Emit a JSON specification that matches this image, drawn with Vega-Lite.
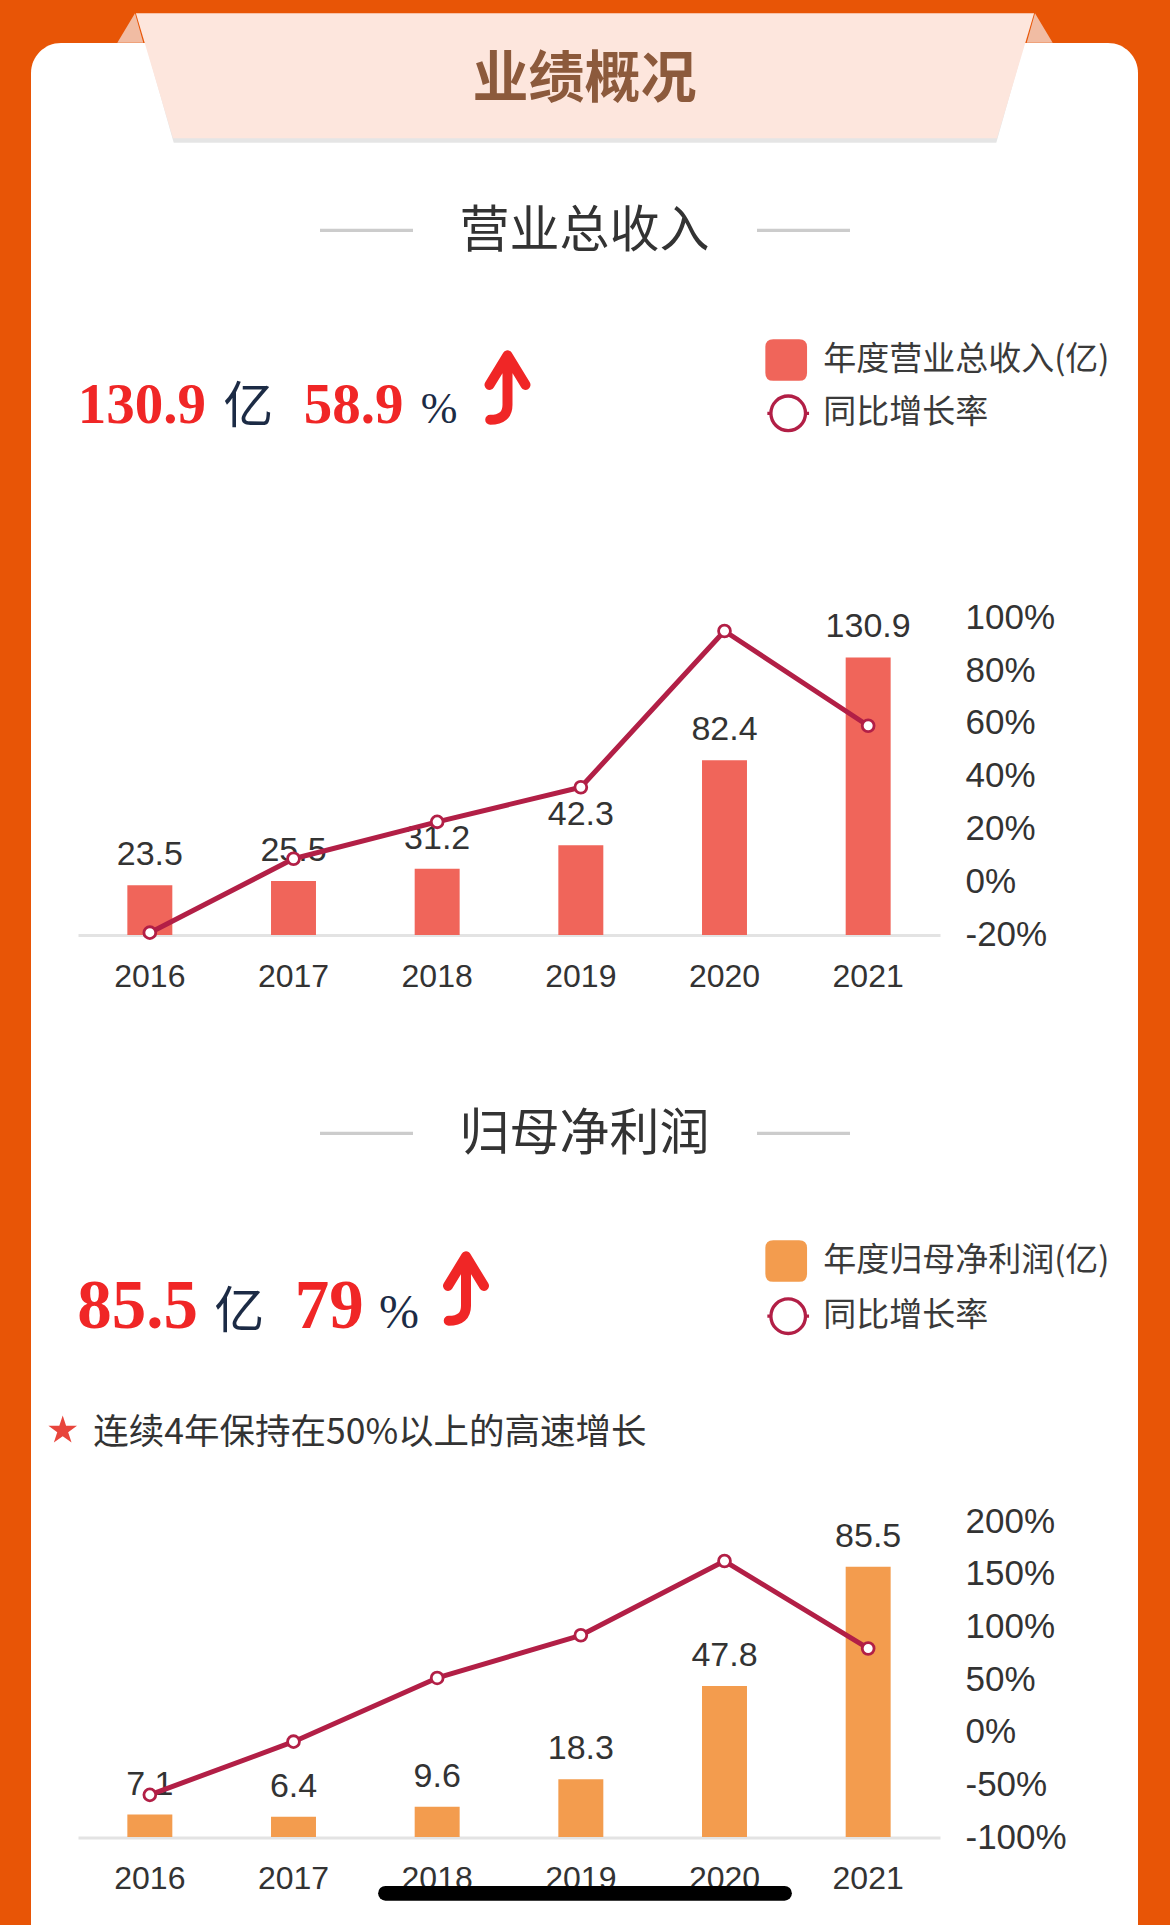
{
  "$schema": "https://vega.github.io/schema/vega-lite/v6.json",
  "width": 1107,
  "height": 1912,
  "autosize": {"type": "none"},
  "padding": {"left": 31, "top": 43, "right": 32, "bottom": -30},
  "background": "#E85506",
  "config": {
    "view": {"fill": "#FFFFFF", "stroke": null, "cornerRadius": 30},
    "font": "Liberation Sans"
  },
  "datasets": {
    "revenue": [
      {"year": "2016", "revenue": 23.5, "growth": -19.5},
      {"year": "2017", "revenue": 25.5, "growth": 8.5},
      {"year": "2018", "revenue": 31.2, "growth": 22.5},
      {"year": "2019", "revenue": 42.3, "growth": 35.6},
      {"year": "2020", "revenue": 82.4, "growth": 94.8},
      {"year": "2021", "revenue": 130.9, "growth": 58.9}
    ],
    "profit": [
      {"year": "2016", "profit": 7.1, "growth": -60.0},
      {"year": "2017", "profit": 6.4, "growth": -9.5},
      {"year": "2018", "profit": 9.6, "growth": 51.0},
      {"year": "2019", "profit": 18.3, "growth": 91.5},
      {"year": "2020", "profit": 47.8, "growth": 162.0},
      {"year": "2021", "profit": 85.5, "growth": 79.0}
    ]
  },
  "resolve": {
    "scale": {"x": "independent", "y": "independent", "fill": "independent", "stroke": "independent"},
    "axis": {"x": "independent", "y": "independent"},
    "legend": {"fill": "independent", "stroke": "independent"}
  },
  "layer": [
    {
      "data": {"values": [{"title": "业绩概况", "section1": "营业总收入", "section2": "归母净利润", "note": "连续4年保持在50%以上的高速增长"}]},
      "layer": [
        {
          "mark": {"type": "point", "shape": "M-1,-0.1389L-1.0393,-0.0736L-0.9816,-0.0736ZM1,-0.1389L1.0393,-0.0736L0.9816,-0.0736Z", "size": 810000, "filled": true, "fill": "#F1BCA3", "strokeWidth": 0, "opacity": 1},
          "encoding": {
            "x": {"datum": 50.045, "type": "quantitative", "scale": {"domain": [0, 100], "nice": false, "zero": false}, "axis": null},
            "y": {"datum": 1.7155, "type": "quantitative", "scale": {"domain": [0, 100], "nice": false, "zero": false, "reverse": true}, "axis": null}
          }
        },
        {
          "mark": {"type": "point", "shape": "M-0.99,-0.12L0.99,-0.12L0.914,0.1489L-0.914,0.1489Z", "size": 810000, "filled": true, "fill": "#000000", "strokeWidth": 0, "opacity": 0.1},
          "encoding": {
            "x": {"datum": 50.045, "type": "quantitative", "scale": {"domain": [0, 100], "nice": false, "zero": false}, "axis": null},
            "y": {"datum": 1.7155, "type": "quantitative", "scale": {"domain": [0, 100], "nice": false, "zero": false, "reverse": true}, "axis": null}
          }
        },
        {
          "mark": {"type": "point", "shape": "M-0.998,-0.1389L0.998,-0.1389L0.9156,0.1389L-0.9156,0.1389Z", "size": 810000, "filled": true, "fill": "#FDE6DD", "strokeWidth": 0, "opacity": 1},
          "encoding": {
            "x": {"datum": 50.045, "type": "quantitative", "scale": {"domain": [0, 100], "nice": false, "zero": false}, "axis": null},
            "y": {"datum": 1.7155, "type": "quantitative", "scale": {"domain": [0, 100], "nice": false, "zero": false, "reverse": true}, "axis": null}
          }
        },
        {
          "mark": {"type": "text", "font": "Noto Sans CJK SC", "fontWeight": "bold", "fontSize": 56, "color": "#8C5A3C", "baseline": "middle", "align": "center"},
          "encoding": {
            "y": {"datum": 1.935, "type": "quantitative", "scale": {"domain": [0, 100], "nice": false, "zero": false, "reverse": true}, "axis": null},
            "text": {"field": "title"}
          }
        },
        {
          "mark": {"type": "text", "font": "Noto Sans CJK SC", "fontSize": 50, "color": "#333333", "baseline": "middle", "align": "center"},
          "encoding": {
            "y": {"datum": 9.885, "type": "quantitative", "scale": {"domain": [0, 100], "nice": false, "zero": false, "reverse": true}, "axis": null},
            "text": {"field": "section1"}
          }
        },
        {
          "mark": {"type": "text", "font": "Noto Sans CJK SC", "fontSize": 50, "color": "#333333", "baseline": "middle", "align": "center"},
          "encoding": {
            "y": {"datum": 57.113, "type": "quantitative", "scale": {"domain": [0, 100], "nice": false, "zero": false, "reverse": true}, "axis": null},
            "text": {"field": "section2"}
          }
        },
        {
          "mark": {"type": "rule", "color": "#CCCCCC", "strokeWidth": 3.3},
          "encoding": {
            "x": {"datum": 26.107, "type": "quantitative", "scale": {"domain": [0, 100], "nice": false, "zero": false}, "axis": null},
            "x2": {"datum": 34.508},
            "y": {"datum": 9.796, "type": "quantitative", "scale": {"domain": [0, 100], "nice": false, "zero": false, "reverse": true}, "axis": null}
          }
        },
        {
          "mark": {"type": "rule", "color": "#CCCCCC", "strokeWidth": 3.3},
          "encoding": {
            "x": {"datum": 65.583, "type": "quantitative", "scale": {"domain": [0, 100], "nice": false, "zero": false}, "axis": null},
            "x2": {"datum": 73.984},
            "y": {"datum": 9.796, "type": "quantitative", "scale": {"domain": [0, 100], "nice": false, "zero": false, "reverse": true}, "axis": null}
          }
        },
        {
          "mark": {"type": "rule", "color": "#CCCCCC", "strokeWidth": 3.3},
          "encoding": {
            "x": {"datum": 26.107, "type": "quantitative", "scale": {"domain": [0, 100], "nice": false, "zero": false}, "axis": null},
            "x2": {"datum": 34.508},
            "y": {"datum": 57.024, "type": "quantitative", "scale": {"domain": [0, 100], "nice": false, "zero": false, "reverse": true}, "axis": null}
          }
        },
        {
          "mark": {"type": "rule", "color": "#CCCCCC", "strokeWidth": 3.3},
          "encoding": {
            "x": {"datum": 65.583, "type": "quantitative", "scale": {"domain": [0, 100], "nice": false, "zero": false}, "axis": null},
            "x2": {"datum": 73.984},
            "y": {"datum": 57.024, "type": "quantitative", "scale": {"domain": [0, 100], "nice": false, "zero": false, "reverse": true}, "axis": null}
          }
        },
        {
          "data": {"name": "revenue"},
          "transform": [{"filter": "datum.year == '2021'"}],
          "mark": {"type": "text", "align": "left", "baseline": "alphabetic", "font": "Liberation Serif", "fontWeight": "bold", "fontSize": 57, "color": "#F02626"},
          "encoding": {
            "x": {"datum": 4.219, "type": "quantitative", "scale": {"domain": [0, 100], "nice": false, "zero": false}, "axis": null},
            "y": {"datum": 19.89, "type": "quantitative", "scale": {"domain": [0, 100], "nice": false, "zero": false, "reverse": true}, "axis": null},
            "text": {"field": "revenue", "type": "quantitative", "format": ".1f"}
          }
        },
        {
          "data": {"name": "revenue"},
          "transform": [{"filter": "datum.year == '2021'"}],
          "mark": {"type": "text", "align": "left", "baseline": "alphabetic", "font": "Noto Sans CJK SC", "fontSize": 50, "color": "#1C2B45", "text": "亿"},
          "encoding": {
            "x": {"datum": 17.362, "type": "quantitative", "scale": {"domain": [0, 100], "nice": false, "zero": false}, "axis": null},
            "y": {"datum": 19.89, "type": "quantitative", "scale": {"domain": [0, 100], "nice": false, "zero": false, "reverse": true}, "axis": null}
          }
        },
        {
          "data": {"name": "revenue"},
          "transform": [{"filter": "datum.year == '2021'"}],
          "mark": {"type": "text", "align": "left", "baseline": "alphabetic", "font": "Liberation Serif", "fontWeight": "bold", "fontSize": 57, "color": "#F02626"},
          "encoding": {
            "x": {"datum": 24.634, "type": "quantitative", "scale": {"domain": [0, 100], "nice": false, "zero": false}, "axis": null},
            "y": {"datum": 19.89, "type": "quantitative", "scale": {"domain": [0, 100], "nice": false, "zero": false, "reverse": true}, "axis": null},
            "text": {"field": "growth", "type": "quantitative", "format": ".1f"}
          }
        },
        {
          "data": {"name": "revenue"},
          "transform": [{"filter": "datum.year == '2021'"}],
          "mark": {"type": "text", "align": "left", "baseline": "alphabetic", "font": "Liberation Serif", "fontSize": 44, "color": "#1C2B45", "text": "%"},
          "encoding": {
            "x": {"datum": 35.212, "type": "quantitative", "scale": {"domain": [0, 100], "nice": false, "zero": false}, "axis": null},
            "y": {"datum": 19.89, "type": "quantitative", "scale": {"domain": [0, 100], "nice": false, "zero": false, "reverse": true}, "axis": null}
          }
        },
        {
          "data": {"name": "revenue"},
          "transform": [{"filter": "datum.year == '2021'"}],
          "mark": {"type": "point", "shape": "M-0.5,-0.1L0,-0.92L0.5,-0.1M0,-0.9L0,0.45Q0,0.87,-0.48,0.87", "size": 5184, "filled": false, "color": "#F02626", "strokeWidth": 10, "strokeCap": "round", "strokeJoin": "round", "opacity": 1},
          "encoding": {
            "x": {"datum": 43.044, "type": "quantitative", "scale": {"domain": [0, 100], "nice": false, "zero": false}, "axis": null},
            "y": {"datum": 18.07, "type": "quantitative", "scale": {"domain": [0, 100], "nice": false, "zero": false, "reverse": true}, "axis": null}
          }
        },
        {
          "data": {"name": "profit"},
          "transform": [{"filter": "datum.year == '2021'"}],
          "mark": {"type": "text", "align": "left", "baseline": "alphabetic", "font": "Liberation Serif", "fontWeight": "bold", "fontSize": 69, "color": "#F02626"},
          "encoding": {
            "x": {"datum": 4.183, "type": "quantitative", "scale": {"domain": [0, 100], "nice": false, "zero": false}, "axis": null},
            "y": {"datum": 67.223, "type": "quantitative", "scale": {"domain": [0, 100], "nice": false, "zero": false, "reverse": true}, "axis": null},
            "text": {"field": "profit", "type": "quantitative", "format": ".1f"}
          }
        },
        {
          "data": {"name": "profit"},
          "transform": [{"filter": "datum.year == '2021'"}],
          "mark": {"type": "text", "align": "left", "baseline": "alphabetic", "font": "Noto Sans CJK SC", "fontSize": 50, "color": "#1C2B45", "text": "亿"},
          "encoding": {
            "x": {"datum": 16.549, "type": "quantitative", "scale": {"domain": [0, 100], "nice": false, "zero": false}, "axis": null},
            "y": {"datum": 67.223, "type": "quantitative", "scale": {"domain": [0, 100], "nice": false, "zero": false, "reverse": true}, "axis": null}
          }
        },
        {
          "data": {"name": "profit"},
          "transform": [{"filter": "datum.year == '2021'"}],
          "mark": {"type": "text", "align": "left", "baseline": "alphabetic", "font": "Liberation Serif", "fontWeight": "bold", "fontSize": 69, "color": "#F02626"},
          "encoding": {
            "x": {"datum": 23.821, "type": "quantitative", "scale": {"domain": [0, 100], "nice": false, "zero": false}, "axis": null},
            "y": {"datum": 67.223, "type": "quantitative", "scale": {"domain": [0, 100], "nice": false, "zero": false, "reverse": true}, "axis": null},
            "text": {"field": "growth", "type": "quantitative", "format": "d"}
          }
        },
        {
          "data": {"name": "profit"},
          "transform": [{"filter": "datum.year == '2021'"}],
          "mark": {"type": "text", "align": "left", "baseline": "alphabetic", "font": "Liberation Serif", "fontSize": 48, "color": "#1C2B45", "text": "%"},
          "encoding": {
            "x": {"datum": 31.427, "type": "quantitative", "scale": {"domain": [0, 100], "nice": false, "zero": false}, "axis": null},
            "y": {"datum": 67.223, "type": "quantitative", "scale": {"domain": [0, 100], "nice": false, "zero": false, "reverse": true}, "axis": null}
          }
        },
        {
          "data": {"name": "profit"},
          "transform": [{"filter": "datum.year == '2021'"}],
          "mark": {"type": "point", "shape": "M-0.5,-0.1L0,-0.92L0.5,-0.1M0,-0.9L0,0.45Q0,0.87,-0.48,0.87", "size": 5184, "filled": false, "color": "#F02626", "strokeWidth": 10, "strokeCap": "round", "strokeJoin": "round", "opacity": 1},
          "encoding": {
            "x": {"datum": 39.296, "type": "quantitative", "scale": {"domain": [0, 100], "nice": false, "zero": false}, "axis": null},
            "y": {"datum": 65.193, "type": "quantitative", "scale": {"domain": [0, 100], "nice": false, "zero": false, "reverse": true}, "axis": null}
          }
        },
        {
          "mark": {"type": "point", "shape": "M0,-0.9045L0.2245,-0.2135L0.951,-0.2135L0.363,0.2135L0.588,0.9045L0,0.4775L-0.588,0.9045L-0.363,0.2135L-0.951,-0.2135L-0.2245,-0.2135Z", "size": 905, "filled": true, "fill": "#E8453C", "strokeWidth": 0, "opacity": 1},
          "encoding": {
            "x": {"datum": 2.864, "type": "quantitative", "scale": {"domain": [0, 100], "nice": false, "zero": false}, "axis": null},
            "y": {"datum": 72.49, "type": "quantitative", "scale": {"domain": [0, 100], "nice": false, "zero": false, "reverse": true}, "axis": null}
          }
        },
        {
          "mark": {"type": "text", "align": "left", "baseline": "middle", "font": "Noto Sans CJK SC", "fontSize": 35.5, "color": "#333333"},
          "encoding": {
            "x": {"datum": 5.628, "type": "quantitative", "scale": {"domain": [0, 100], "nice": false, "zero": false}, "axis": null},
            "y": {"datum": 72.72, "type": "quantitative", "scale": {"domain": [0, 100], "nice": false, "zero": false, "reverse": true}, "axis": null},
            "text": {"field": "note"}
          }
        }
      ]
    },
    {
      "data": {"name": "revenue"},
      "resolve": {"scale": {"y": "independent"}, "axis": {"y": "independent"}},
      "encoding": {
        "x": {
          "field": "year", "type": "ordinal",
          "scale": {"range": [47, 909], "paddingInner": 0.687, "paddingOuter": 0.3435},
          "axis": {"orient": "bottom", "offset": -1020, "title": null, "domainColor": "#E3E3E3", "domainWidth": 3, "ticks": false, "tickSize": 0, "labelPadding": 26, "labelFontSize": 32, "labelColor": "#333333", "labelFont": "Liberation Sans", "labelAngle": 0, "grid": false}
        }
      },
      "layer": [
        {
          "mark": {"type": "bar"},
          "encoding": {
            "y": {"field": "revenue", "type": "quantitative", "scale": {"domain": [0, 150], "range": [892, 574], "nice": false}, "axis": null},
            "fill": {
              "datum": "年度营业总收入(亿)", "type": "nominal",
              "scale": {"domain": ["年度营业总收入(亿)"], "range": ["#F0655A"]},
              "legend": {"orient": "none", "legendX": 734.2, "legendY": 296, "title": null, "padding": 0,
                "symbolType": "M-0.62,-1L0.62,-1Q1,-1,1,-0.62L1,0.62Q1,1,0.62,1L-0.62,1Q-1,1,-1,0.62L-1,-0.62Q-1,-1,-0.62,-1Z",
                "symbolSize": 1739, "symbolStrokeWidth": 0, "symbolFillColor": "#F0655A", "labelFont": "Noto Sans CJK SC", "labelFontSize": 33, "labelColor": "#3A3A3A", "labelOffset": 16, "labelLimit": 600}
            }
          }
        },
        {
          "mark": {"type": "text", "baseline": "alphabetic", "align": "center", "dy": -20, "fontSize": 34, "color": "#333333", "font": "Liberation Sans"},
          "encoding": {
            "y": {"field": "revenue", "type": "quantitative", "scale": {"domain": [0, 150], "range": [892, 574], "nice": false}, "axis": null},
            "text": {"field": "revenue", "type": "quantitative", "format": ".1f"}
          }
        },
        {
          "mark": {"type": "line", "strokeWidth": 5, "strokeJoin": "round"},
          "encoding": {
            "y": {"field": "growth", "type": "quantitative", "scale": {"domain": [-20, 100], "range": [891, 574.3], "nice": false, "zero": false},
              "axis": {"orient": "right", "offset": -198, "title": null, "domain": false, "ticks": false, "tickSize": 0, "grid": false, "labelPadding": 25, "labelFontSize": 35, "labelColor": "#333333", "labelFont": "Liberation Sans", "values": [-20, 0, 20, 40, 60, 80, 100], "labelExpr": "datum.value + '%'", "labelBaseline": "middle", "labelAlign": "left"}},
            "stroke": {
              "datum": "同比增长率", "type": "nominal",
              "scale": {"domain": ["同比增长率"], "range": ["#B21F46"]},
              "legend": {"orient": "none", "legendX": 734.2, "legendY": 347.3, "title": null, "padding": 0,
                "symbolType": "M-1,0L-0.83,0M0.83,0L1,0M-0.83,0A0.83,0.83,0,1,1,0.83,0A0.83,0.83,0,1,1,-0.83,0Z",
                "symbolSize": 1739, "symbolStrokeWidth": 3.3, "symbolFillColor": "#FFFFFF", "labelFont": "Noto Sans CJK SC", "labelFontSize": 33, "labelColor": "#3A3A3A", "labelOffset": 12, "labelLimit": 600}
            }
          }
        },
        {
          "mark": {"type": "point", "filled": true, "fill": "#FFFFFF", "size": 140, "strokeWidth": 2.8, "opacity": 1},
          "encoding": {
            "y": {"field": "growth", "type": "quantitative", "scale": {"domain": [-20, 100], "range": [891, 574.3], "nice": false, "zero": false}, "axis": null},
            "stroke": {"datum": "同比增长率", "type": "nominal"}
          }
        }
      ]
    },
    {
      "data": {"name": "profit"},
      "resolve": {"scale": {"y": "independent"}, "axis": {"y": "independent"}},
      "encoding": {
        "x": {
          "field": "year", "type": "ordinal",
          "scale": {"range": [47, 909], "paddingInner": 0.687, "paddingOuter": 0.3435},
          "axis": {"orient": "bottom", "offset": -117.5, "title": null, "domainColor": "#E3E3E3", "domainWidth": 3, "ticks": false, "tickSize": 0, "labelPadding": 26, "labelFontSize": 32, "labelColor": "#333333", "labelFont": "Liberation Sans", "labelAngle": 0, "grid": false}
        }
      },
      "layer": [
        {
          "mark": {"type": "bar"},
          "encoding": {
            "y": {"field": "profit", "type": "quantitative", "scale": {"domain": [0, 100], "range": [1794, 1478], "nice": false}, "axis": null},
            "fill": {
              "datum": "年度归母净利润(亿)", "type": "nominal",
              "scale": {"domain": ["年度归母净利润(亿)"], "range": ["#F39C4E"]},
              "legend": {"orient": "none", "legendX": 734.2, "legendY": 1197, "title": null, "padding": 0,
                "symbolType": "M-0.62,-1L0.62,-1Q1,-1,1,-0.62L1,0.62Q1,1,0.62,1L-0.62,1Q-1,1,-1,0.62L-1,-0.62Q-1,-1,-0.62,-1Z",
                "symbolSize": 1739, "symbolStrokeWidth": 0, "symbolFillColor": "#F39C4E", "labelFont": "Noto Sans CJK SC", "labelFontSize": 33, "labelColor": "#3A3A3A", "labelOffset": 16, "labelLimit": 600}
            }
          }
        },
        {
          "mark": {"type": "text", "baseline": "alphabetic", "align": "center", "dy": -20, "fontSize": 34, "color": "#333333", "font": "Liberation Sans"},
          "encoding": {
            "y": {"field": "profit", "type": "quantitative", "scale": {"domain": [0, 100], "range": [1794, 1478], "nice": false}, "axis": null},
            "text": {"field": "profit", "type": "quantitative", "format": ".1f"}
          }
        },
        {
          "mark": {"type": "line", "strokeWidth": 5, "strokeJoin": "round"},
          "encoding": {
            "y": {"field": "growth", "type": "quantitative", "scale": {"domain": [-100, 200], "range": [1794, 1478], "nice": false, "zero": false},
              "axis": {"orient": "right", "offset": -198, "title": null, "domain": false, "ticks": false, "tickSize": 0, "grid": false, "labelPadding": 25, "labelFontSize": 35, "labelColor": "#333333", "labelFont": "Liberation Sans", "values": [-100, -50, 0, 50, 100, 150, 200], "labelExpr": "datum.value + '%'", "labelBaseline": "middle", "labelAlign": "left"}},
            "stroke": {
              "datum": "同比增长率", "type": "nominal",
              "scale": {"domain": ["同比增长率"], "range": ["#B21F46"]},
              "legend": {"orient": "none", "legendX": 734.2, "legendY": 1250.2, "title": null, "padding": 0,
                "symbolType": "M-1,0L-0.83,0M0.83,0L1,0M-0.83,0A0.83,0.83,0,1,1,0.83,0A0.83,0.83,0,1,1,-0.83,0Z",
                "symbolSize": 1739, "symbolStrokeWidth": 3.3, "symbolFillColor": "#FFFFFF", "labelFont": "Noto Sans CJK SC", "labelFontSize": 33, "labelColor": "#3A3A3A", "labelOffset": 12, "labelLimit": 600}
            }
          }
        },
        {
          "mark": {"type": "point", "filled": true, "fill": "#FFFFFF", "size": 140, "strokeWidth": 2.8, "opacity": 1},
          "encoding": {
            "y": {"field": "growth", "type": "quantitative", "scale": {"domain": [-100, 200], "range": [1794, 1478], "nice": false, "zero": false}, "axis": null},
            "stroke": {"datum": "同比增长率", "type": "nominal"}
          }
        }
      ]
    },
    {
      "data": {"values": [{"overlay": "home indicator"}]},
      "mark": {"type": "rule", "color": "#000000", "strokeWidth": 14.7, "strokeCap": "round"},
      "encoding": {
        "x": {"datum": 32.02, "type": "quantitative", "scale": {"domain": [0, 100], "nice": false, "zero": false}, "axis": null},
        "x2": {"datum": 68.07},
        "y": {"datum": 96.773, "type": "quantitative", "scale": {"domain": [0, 100], "nice": false, "zero": false, "reverse": true}, "axis": null}
      }
    }
  ]
}
